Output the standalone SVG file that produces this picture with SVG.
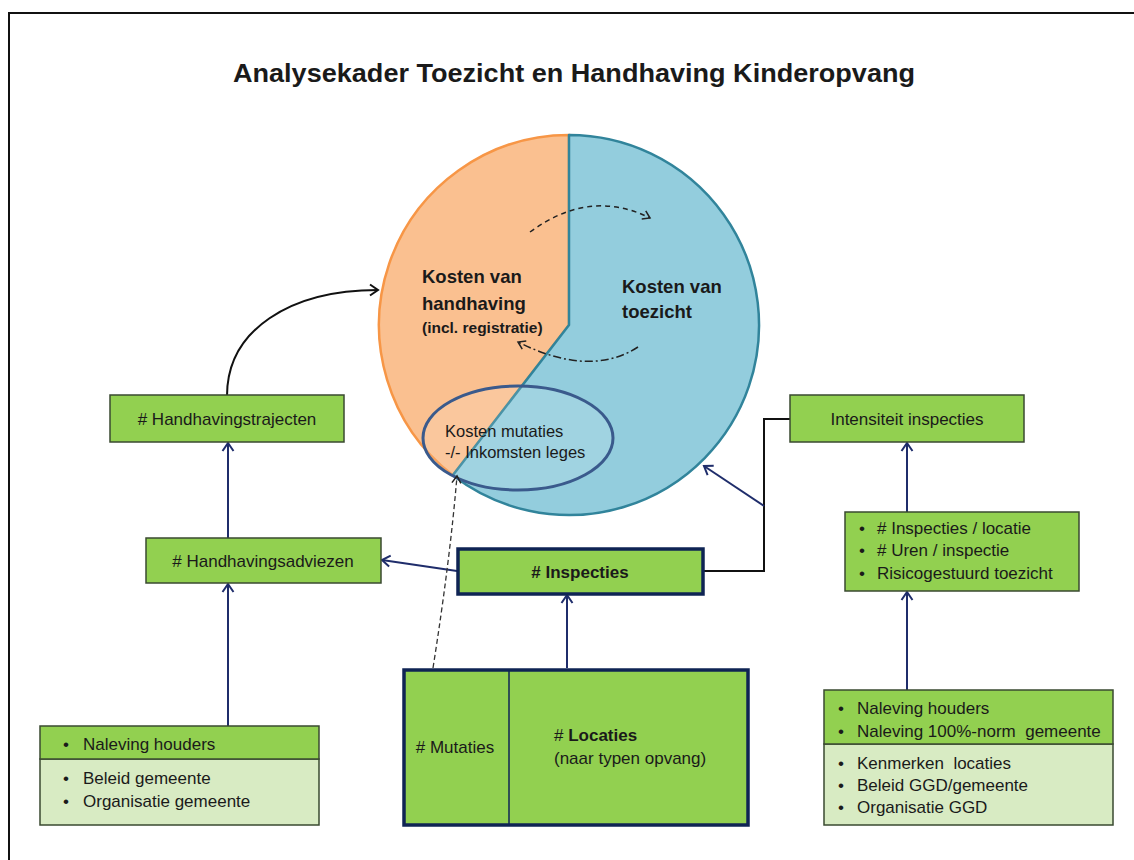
<svg xmlns="http://www.w3.org/2000/svg" width="1134" height="860" viewBox="0 0 1134 860">
<style>
text{font-family:"Liberation Sans",Arial,sans-serif;fill:#1a1a1a;}
.box{fill:#92D050;stroke:#3a4a30;stroke-width:1.5;}
.light{fill:#D8EBC3;stroke:#3a4a30;stroke-width:1.5;}
.thick{fill:#92D050;stroke:#0F2454;stroke-width:3.5;}
.lbl{font-size:17px;}
.c{text-anchor:middle;}
.big{font-size:18.5px;font-weight:bold;}
.nav{fill:none;stroke:#1F2D6B;stroke-width:2;}
.blk{fill:none;stroke:#111;stroke-width:2;}
</style>
<defs>
<marker id="an" markerUnits="userSpaceOnUse" markerWidth="14" markerHeight="14" refX="11" refY="7" orient="auto" viewBox="0 0 14 14">
<path d="M3,1.5 L11,7 L3,12.5" fill="none" stroke="#1F2D6B" stroke-width="2"/>
</marker>
<marker id="ab" markerUnits="userSpaceOnUse" markerWidth="14" markerHeight="14" refX="11" refY="7" orient="auto" viewBox="0 0 14 14">
<path d="M3,1.5 L11,7 L3,12.5" fill="none" stroke="#111" stroke-width="2"/>
</marker>
<marker id="ad" markerUnits="userSpaceOnUse" markerWidth="12" markerHeight="12" refX="10" refY="6" orient="auto" viewBox="0 0 12 12">
<path d="M3,1.5 L10,6 L3,10.5" fill="none" stroke="#222" stroke-width="1.5"/>
</marker>
</defs>
<rect width="1134" height="860" fill="#fff"/>
<path d="M9,870 L9,13 L1140,13" fill="none" stroke="#111" stroke-width="2"/>
<text x="574" y="82" class="c" style="font-size:25px;font-weight:bold" textLength="682" lengthAdjust="spacingAndGlyphs">Analysekader Toezicht en Handhaving Kinderopvang</text>

<g id="pie">
<path d="M569,325 L452.8,475.3 A190,190 0 0,1 569,135 Z" fill="#FAC090" stroke="#F79646" stroke-width="2.5"/>
<path d="M569,325 L569,135 A190,190 0 1,1 452.8,475.3 Z" fill="#93CDDD" stroke="#31849B" stroke-width="2.5" stroke-linejoin="round"/>
<text x="422" y="283" class="big">Kosten van</text>
<text x="422" y="310" class="big">handhaving</text>
<text x="422" y="333" style="font-size:15.5px;font-weight:bold">(incl. registratie)</text>
<text x="622" y="293" class="big">Kosten van</text>
<text x="622" y="318" class="big">toezicht</text>
</g>
<g id="ellipse">
<ellipse cx="518" cy="438" rx="95" ry="52" fill="#ffffff" fill-opacity="0.12" stroke="#3A5A8C" stroke-width="3"/>
<text x="445" y="437" style="font-size:16.5px">Kosten mutaties</text>
<text x="445" y="458" style="font-size:16.5px">-/- Inkomsten  leges</text>
</g>

<g id="connectors">
<path d="M530,232 Q590,188 650,218" fill="none" stroke="#222" stroke-width="1.5" stroke-dasharray="5,4" marker-end="url(#ad)"/>
<path d="M638,347 Q590,378 518,342" fill="none" stroke="#222" stroke-width="1.5" stroke-dasharray="8,3,2,3" marker-end="url(#ad)"/>
<path d="M227,396 C227,330 290,290 378,290" class="blk" marker-end="url(#ab)"/>
<line x1="228" y1="538" x2="228" y2="443" class="nav" marker-end="url(#an)"/>
<line x1="228" y1="726" x2="228" y2="584" class="nav" marker-end="url(#an)"/>
<line x1="457" y1="571" x2="382" y2="560" class="nav" marker-end="url(#an)"/>
<line x1="567" y1="668" x2="567" y2="595" class="nav" marker-end="url(#an)"/>
<path d="M433,668 Q450,560 457,476" fill="none" stroke="#333" stroke-width="1.3" stroke-dasharray="5,3" marker-end="url(#ad)"/>
<path d="M703,571 L764,571 L764,419 L790,419" class="blk"/>
<line x1="764" y1="506" x2="704" y2="466" class="nav" marker-end="url(#an)"/>
<line x1="907" y1="512" x2="907" y2="443" class="nav" marker-end="url(#an)"/>
<line x1="907" y1="690" x2="907" y2="592" class="nav" marker-end="url(#an)"/>
</g>

<g id="handhavingstrajecten">
<rect x="110" y="395" width="234" height="47" class="box"/>
<text x="227" y="425" class="lbl c"># Handhavingstrajecten</text>
</g>
<g id="handhavingsadviezen">
<rect x="146" y="538" width="235" height="45" class="box"/>
<text x="263" y="567" class="lbl c"># Handhavingsadviezen</text>
</g>
<g id="inspecties">
<rect x="458" y="549" width="245" height="45" class="thick"/>
<text x="580" y="578" class="lbl c" style="font-weight:bold"># Inspecties</text>
</g>
<g id="locaties">
<rect x="404" y="670" width="344" height="155" class="thick"/>
<line x1="509" y1="670" x2="509" y2="825" stroke="#0F2454" stroke-width="1.5"/>
<text x="455" y="753" class="lbl c"># Mutaties</text>
<text x="554" y="741" class="lbl"># <tspan style="font-weight:bold">Locaties</tspan></text>
<text x="554" y="764" class="lbl">(naar typen opvang)</text>
</g>
<g id="intensiteit">
<rect x="790" y="395" width="234" height="47" class="box"/>
<text x="907" y="425" class="lbl c">Intensiteit inspecties</text>
</g>
<g id="inspecties-details">
<rect x="845" y="512" width="234" height="79" class="box"/>
<text x="859" y="534" class="lbl">•</text><text x="877" y="534" class="lbl"># Inspecties / locatie</text>
<text x="859" y="556" class="lbl">•</text><text x="877" y="556" class="lbl"># Uren / inspectie</text>
<text x="859" y="579" class="lbl">•</text><text x="877" y="579" class="lbl">Risicogestuurd toezicht</text>
</g>
<g id="factoren-rechts">
<rect x="824" y="744" width="289" height="81" class="light"/>
<rect x="824" y="690" width="289" height="54" class="box"/>
<text x="838" y="714" class="lbl">•</text><text x="857" y="714" class="lbl">Naleving houders</text>
<text x="838" y="737" class="lbl">•</text><text x="857" y="737" class="lbl" xml:space="preserve">Naleving 100%-norm  gemeente</text>
<text x="838" y="769" class="lbl">•</text><text x="857" y="769" class="lbl" xml:space="preserve">Kenmerken  locaties</text>
<text x="838" y="791" class="lbl">•</text><text x="857" y="791" class="lbl">Beleid GGD/gemeente</text>
<text x="838" y="813" class="lbl">•</text><text x="857" y="813" class="lbl">Organisatie GGD</text>
</g>
<g id="factoren-links">
<rect x="40" y="759" width="279" height="66" class="light"/>
<rect x="40" y="726" width="279" height="33" class="box"/>
<text x="63" y="750" class="lbl">•</text><text x="83" y="750" class="lbl">Naleving houders</text>
<text x="63" y="784" class="lbl">•</text><text x="83" y="784" class="lbl">Beleid gemeente</text>
<text x="63" y="807" class="lbl">•</text><text x="83" y="807" class="lbl">Organisatie gemeente</text>
</g>
</svg>
